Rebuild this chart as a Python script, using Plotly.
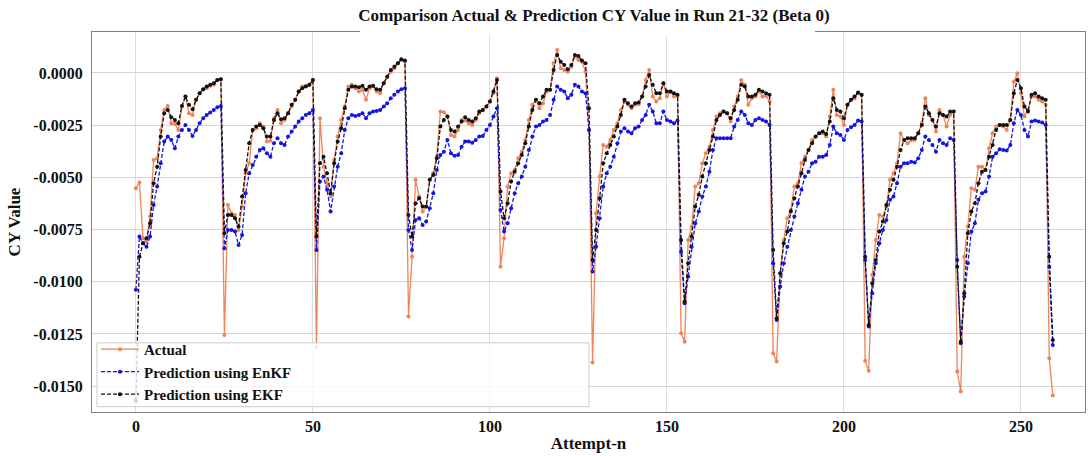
import plotly.graph_objects as go

attempt = list(range(260))

actual = [
    -0.00552, -0.00525, -0.00792, -0.00808, -0.00688, -0.00417, -0.00410, -0.00273, -0.00177, -0.00158,
    -0.00241, -0.00244, -0.00273, -0.00161, -0.00113, -0.00193, -0.00201, -0.00129, -0.00097, -0.00081,
    -0.00073, -0.00062, -0.00057, -0.00034, -0.00030,
    -0.01255, -0.00632, -0.00672, -0.00680, -0.00752, -0.00640, -0.00481, -0.00433, -0.00273, -0.00265,
    -0.00241, -0.00257, -0.00329, -0.00325, -0.00217, -0.00177, -0.00241, -0.00225, -0.00193, -0.00161,
    -0.00129, -0.00089, -0.00065, -0.00063, -0.00057, -0.00034,
    -0.01311, -0.00217, -0.00449, -0.00528, -0.00592, -0.00417, -0.00305, -0.00225, -0.00161, -0.00065,
    -0.00057, -0.00073, -0.00089, -0.00081, -0.00129, -0.00073, -0.00065, -0.00089, -0.00097, -0.00049,
    -0.00018, 0.00006, 0.00022, 0.00046, 0.00062, 0.00054,
    -0.01167, -0.00880, -0.00512, -0.00592, -0.00664, -0.00640, -0.00512, -0.00481, -0.00401, -0.00185,
    -0.00188, -0.00209, -0.00297, -0.00305, -0.00273, -0.00225, -0.00228, -0.00241, -0.00249, -0.00225,
    -0.00193, -0.00177, -0.00161, -0.00137, -0.00097, -0.00026,
    -0.00928, -0.00792, -0.00544, -0.00481, -0.00465, -0.00409, -0.00377, -0.00321, -0.00225, -0.00153,
    -0.00129, -0.00169, -0.00145, -0.00089, -0.00081, 0.00046, 0.00110, 0.00022, 0.00014, 0.00006,
    0.00030, 0.00078, 0.00062, 0.00054, 0.00006, -0.00273,
    -0.01387, -0.00672, -0.00496, -0.00345, -0.00353, -0.00321, -0.00273, -0.00241, -0.00177, -0.00137,
    -0.00153, -0.00169, -0.00153, -0.00150, -0.00113, -0.00034, 0.00014, -0.00113, -0.00137, -0.00121,
    -0.00049, -0.00113, -0.00089, -0.00113, -0.00110,
    -0.01247, -0.01287, -0.00800, -0.00736, -0.00544, -0.00528, -0.00433, -0.00385, -0.00353, -0.00273,
    -0.00209, -0.00193, -0.00185, -0.00193, -0.00233, -0.00161, -0.00113, -0.00034, -0.00057, -0.00153,
    -0.00121, -0.00113, -0.00089, -0.00113, -0.00110, -0.00137,
    -0.01343, -0.01382, -0.00959, -0.00800, -0.00696, -0.00656, -0.00544, -0.00528, -0.00433, -0.00401,
    -0.00369, -0.00321, -0.00305, -0.00289, -0.00289, -0.00305, -0.00209, -0.00081, -0.00201, -0.00209,
    -0.00249, -0.00153, -0.00129, -0.00121, -0.00097, -0.00105,
    -0.01379, -0.01427, -0.00967, -0.00800, -0.00680, -0.00688, -0.00640, -0.00512, -0.00481, -0.00433,
    -0.00289, -0.00321, -0.00337, -0.00321, -0.00321, -0.00289, -0.00241, -0.00121, -0.00201, -0.00225,
    -0.00281, -0.00177, -0.00201, -0.00257, -0.00201, -0.00185,
    -0.01430, -0.01526, -0.00880, -0.00736, -0.00552, -0.00560, -0.00449, -0.00449, -0.00465, -0.00361,
    -0.00289, -0.00257, -0.00249, -0.00257, -0.00273, -0.00225, -0.00042, -0.00002, -0.00097, -0.00209,
    -0.00177, -0.00113, -0.00113, -0.00129, -0.00137, -0.00153,
    -0.01367, -0.01545,
]

pred_enkf = [
    -0.01039, -0.00784, -0.00816, -0.00832, -0.00784, -0.00632, -0.00544, -0.00433, -0.00329, -0.00305,
    -0.00321, -0.00361, -0.00305, -0.00273, -0.00249, -0.00273, -0.00302, -0.00273, -0.00241, -0.00217,
    -0.00201, -0.00190, -0.00177, -0.00165, -0.00158,
    -0.00840, -0.00752, -0.00752, -0.00760, -0.00824, -0.00776, -0.00576, -0.00481, -0.00441, -0.00401,
    -0.00369, -0.00361, -0.00385, -0.00401, -0.00337, -0.00313, -0.00337, -0.00345, -0.00305, -0.00281,
    -0.00257, -0.00233, -0.00217, -0.00201, -0.00193, -0.00177,
    -0.00848, -0.00520, -0.00496, -0.00560, -0.00664, -0.00544, -0.00449, -0.00385, -0.00273, -0.00217,
    -0.00201, -0.00206, -0.00201, -0.00193, -0.00217, -0.00193, -0.00185, -0.00182, -0.00177, -0.00161,
    -0.00145, -0.00121, -0.00105, -0.00089, -0.00078, -0.00073,
    -0.00752, -0.00848, -0.00704, -0.00696, -0.00728, -0.00712, -0.00648, -0.00576, -0.00465, -0.00393,
    -0.00377, -0.00321, -0.00385, -0.00397, -0.00393, -0.00353, -0.00329, -0.00329, -0.00334, -0.00321,
    -0.00305, -0.00302, -0.00273, -0.00249, -0.00209, -0.00169,
    -0.00656, -0.00760, -0.00720, -0.00648, -0.00576, -0.00528, -0.00496, -0.00449, -0.00369, -0.00305,
    -0.00257, -0.00249, -0.00233, -0.00225, -0.00201, -0.00129, -0.00065, -0.00081, -0.00089, -0.00121,
    -0.00105, -0.00057, -0.00065, -0.00089, -0.00097, -0.00273,
    -0.00951, -0.00832, -0.00696, -0.00544, -0.00481, -0.00449, -0.00401, -0.00337, -0.00281, -0.00265,
    -0.00281, -0.00289, -0.00265, -0.00257, -0.00225, -0.00201, -0.00153, -0.00185, -0.00241, -0.00241,
    -0.00185, -0.00225, -0.00233, -0.00241, -0.00228,
    -0.00856, -0.01103, -0.00975, -0.00832, -0.00720, -0.00664, -0.00592, -0.00544, -0.00473, -0.00369,
    -0.00313, -0.00313, -0.00313, -0.00313, -0.00313, -0.00257, -0.00225, -0.00185, -0.00201, -0.00241,
    -0.00249, -0.00225, -0.00217, -0.00225, -0.00233, -0.00249,
    -0.00912, -0.01183, -0.01023, -0.00912, -0.00832, -0.00752, -0.00688, -0.00624, -0.00560, -0.00496,
    -0.00473, -0.00433, -0.00425, -0.00401, -0.00401, -0.00393, -0.00345, -0.00257, -0.00289, -0.00297,
    -0.00321, -0.00273, -0.00260, -0.00249, -0.00228, -0.00233,
    -0.00896, -0.01215, -0.01055, -0.00912, -0.00816, -0.00752, -0.00704, -0.00608, -0.00592, -0.00528,
    -0.00449, -0.00433, -0.00433, -0.00425, -0.00429, -0.00409, -0.00369, -0.00305, -0.00321, -0.00345,
    -0.00377, -0.00321, -0.00337, -0.00345, -0.00313, -0.00321,
    -0.00896, -0.01295, -0.01071, -0.00912, -0.00760, -0.00720, -0.00608, -0.00576, -0.00568, -0.00496,
    -0.00401, -0.00385, -0.00366, -0.00369, -0.00372, -0.00345, -0.00241, -0.00177, -0.00201, -0.00273,
    -0.00305, -0.00233, -0.00228, -0.00233, -0.00238, -0.00249,
    -0.00928, -0.01303,
]

pred_ekf = [
    -0.01570, -0.00880, -0.00816, -0.00792, -0.00720, -0.00528, -0.00449, -0.00305, -0.00193, -0.00177,
    -0.00212, -0.00225, -0.00241, -0.00158, -0.00113, -0.00153, -0.00174, -0.00129, -0.00097, -0.00078,
    -0.00065, -0.00057, -0.00049, -0.00034, -0.00030,
    -0.00768, -0.00680, -0.00680, -0.00696, -0.00736, -0.00592, -0.00465, -0.00337, -0.00273, -0.00257,
    -0.00249, -0.00265, -0.00305, -0.00305, -0.00225, -0.00193, -0.00222, -0.00217, -0.00193, -0.00153,
    -0.00129, -0.00089, -0.00073, -0.00065, -0.00057, -0.00034,
    -0.00784, -0.00433, -0.00401, -0.00481, -0.00576, -0.00433, -0.00329, -0.00265, -0.00169, -0.00081,
    -0.00065, -0.00065, -0.00069, -0.00062, -0.00081, -0.00065, -0.00062, -0.00078, -0.00081, -0.00049,
    -0.00018, 0.00014, 0.00030, 0.00046, 0.00065, 0.00059,
    -0.00680, -0.00784, -0.00624, -0.00600, -0.00640, -0.00640, -0.00512, -0.00489, -0.00409, -0.00257,
    -0.00225, -0.00209, -0.00273, -0.00281, -0.00257, -0.00233, -0.00212, -0.00225, -0.00233, -0.00217,
    -0.00185, -0.00177, -0.00161, -0.00137, -0.00089, -0.00034,
    -0.00568, -0.00696, -0.00624, -0.00520, -0.00473, -0.00433, -0.00393, -0.00337, -0.00257, -0.00177,
    -0.00129, -0.00145, -0.00113, -0.00081, -0.00081, 0.00014, 0.00086, 0.00054, 0.00038, 0.00018,
    0.00038, 0.00086, 0.00081, 0.00059, 0.00046, -0.00169,
    -0.00896, -0.00752, -0.00600, -0.00433, -0.00385, -0.00345, -0.00305, -0.00257, -0.00201, -0.00129,
    -0.00145, -0.00161, -0.00145, -0.00142, -0.00113, -0.00065, -0.00010, -0.00057, -0.00097, -0.00097,
    -0.00049, -0.00089, -0.00089, -0.00097, -0.00105,
    -0.00800, -0.01095, -0.00912, -0.00784, -0.00640, -0.00584, -0.00496, -0.00433, -0.00369, -0.00305,
    -0.00225, -0.00201, -0.00185, -0.00193, -0.00217, -0.00177, -0.00129, -0.00057, -0.00065, -0.00113,
    -0.00113, -0.00105, -0.00081, -0.00089, -0.00097, -0.00105,
    -0.00848, -0.01175, -0.00959, -0.00816, -0.00760, -0.00664, -0.00600, -0.00544, -0.00481, -0.00417,
    -0.00369, -0.00337, -0.00305, -0.00289, -0.00281, -0.00292, -0.00233, -0.00121, -0.00177, -0.00185,
    -0.00217, -0.00153, -0.00129, -0.00113, -0.00094, -0.00105,
    -0.00880, -0.01207, -0.01007, -0.00896, -0.00760, -0.00712, -0.00632, -0.00560, -0.00512, -0.00449,
    -0.00369, -0.00321, -0.00313, -0.00313, -0.00313, -0.00289, -0.00249, -0.00161, -0.00193, -0.00225,
    -0.00257, -0.00193, -0.00201, -0.00209, -0.00185, -0.00185,
    -0.00928, -0.01287, -0.01055, -0.00768, -0.00664, -0.00624, -0.00528, -0.00473, -0.00465, -0.00401,
    -0.00345, -0.00273, -0.00249, -0.00249, -0.00249, -0.00225, -0.00097, -0.00034, -0.00073, -0.00161,
    -0.00185, -0.00105, -0.00097, -0.00113, -0.00121, -0.00129,
    -0.00880, -0.01279,
]

x_ticks = [0, 50, 100, 150, 200, 250]
y_ticks = [0.0, -0.0025, -0.005, -0.0075, -0.01, -0.0125, -0.015]
y_tick_labels = ["0.0000", "-0.0025", "-0.0050", "-0.0075", "-0.0100", "-0.0125", "-0.0150"]

FONT = "Liberation Serif"

fig = go.Figure()
fig.add_trace(go.Scatter(
    x=attempt, y=actual, name="<b>Actual</b>", mode="lines+markers",
    line=dict(color="#EE8459", width=1.3),
    marker=dict(color="#EE8459", size=4),
))
fig.add_trace(go.Scatter(
    x=attempt, y=pred_enkf, name="<b>Prediction using EnKF</b>", mode="lines+markers",
    line=dict(color="#1515E0", width=1.3, dash="4px,2px"),
    marker=dict(color="#1515E0", size=4),
))
fig.add_trace(go.Scatter(
    x=attempt, y=pred_ekf, name="<b>Prediction using EKF</b>", mode="lines+markers",
    line=dict(color="#111111", width=1.3, dash="4px,2px"),
    marker=dict(color="#111111", size=4),
))

# legend frame (semi-transparent, like the reference)
fig.add_shape(type="rect", xref="paper", yref="paper",
              x0=0.005, x1=0.5005, y0=0.014, y1=0.182,
              fillcolor="rgba(255,255,255,0.8)", line=dict(color="#cccccc", width=1),
              layer="above")
# gap in the top frame under the title
fig.add_shape(type="rect", xref="paper", yref="paper",
              x0=0.27, x1=0.728, y0=0.99, y1=1.03,
              fillcolor="white", line=dict(width=0), layer="above")

fig.update_layout(
    width=1088, height=456,
    margin=dict(l=92, r=3, t=32, b=44),
    paper_bgcolor="white", plot_bgcolor="white",
    font=dict(family=FONT, color="#111111"),
    title=dict(text="<b>Comparison Actual & Prediction CY Value in Run 21-32 (Beta 0)</b>",
               x=594/1088, xanchor="center", y=1 - 15/456, yanchor="middle",
               font=dict(size=17, family=FONT, color="#111111")),
    showlegend=True,
    legend=dict(x=0.004, y=0.208, xanchor="left", yanchor="top",
                bgcolor="rgba(0,0,0,0)", borderwidth=0,
                font=dict(size=15, family=FONT, color="#111111"),
                tracegroupgap=0, itemwidth=38),
)
fig.update_xaxes(
    range=[-12.4, 268.1], tickvals=x_ticks, ticktext=[f"<b>{v}</b>" for v in x_ticks],
    tickfont=dict(size=16, family=FONT), showgrid=True, gridcolor="#dddddd", gridwidth=1,
    zeroline=False, showline=True, linecolor="#808080", linewidth=1.2, mirror=True,
    ticks="", title=dict(text="<b>Attempt-n</b>", font=dict(size=17, family=FONT), standoff=2),
)
fig.update_yaxes(
    range=[-0.01624, 0.00196], tickvals=y_ticks, ticktext=[f"<b>{t}</b>" for t in y_tick_labels],
    tickfont=dict(size=16, family=FONT), showgrid=True, gridcolor="#d5d5d5", gridwidth=1,
    zeroline=False, showline=True, linecolor="#808080", linewidth=1.2, mirror=True,
    ticks="", ticklabelstandoff=5,
    title=dict(text="<b>CY Value</b>", font=dict(size=17, family=FONT), standoff=8),
)

fig.write_html("out.html")
